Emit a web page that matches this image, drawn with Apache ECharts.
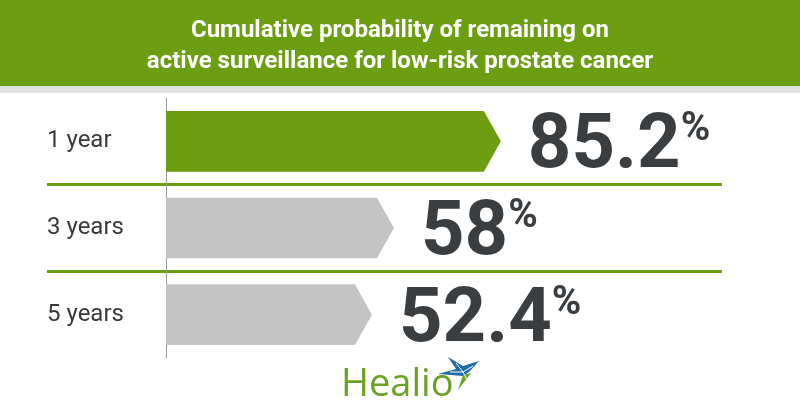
<!DOCTYPE html>
<html><head><meta charset="utf-8">
<script src="https://cdn.jsdelivr.net/npm/echarts@6/dist/echarts.min.js"></script>
<style>html,body{margin:0;padding:0;background:#fff}#c{width:800px;height:420px}</style>
</head><body><div id="c"></div>
<script>
const categories = ['1 year', '3 years', '5 years'];
const values = [85.2, 58, 52.4];
const valueLabels = ['85.2', '58', '52.4'];
const titleLines = ['Cumulative probability of remaining on', 'active surveillance for low-risk prostate cancer'];
const barColors = ['#6b9e10', '#c4c4c4', '#c4c4c4'];

const chart = echarts.init(document.getElementById('c'), null, {renderer: 'canvas'});
const GREEN = '#6b9e10';
const DARK = '#3b3e40';
const PLOT_TOP = 98, PLOT_H = 260;
const band = PLOT_H / categories.length;

const option = {
  backgroundColor: '#ffffff',
  animation: false,
  grid: [
    {left: 166, right: 241, top: PLOT_TOP, height: PLOT_H},
    {left: 47, right: 78, top: PLOT_TOP + band, height: PLOT_H - 2 * band}
  ],
  xAxis: [
    {gridIndex: 0, type: 'value', min: 0, max: 100, show: false},
    {gridIndex: 1, type: 'value', min: 0, max: 1, show: false}
  ],
  yAxis: [
    {gridIndex: 0, type: 'category', data: categories, inverse: true,
     axisLine: {show: true, lineStyle: {color: '#9a9a9a', width: 1}},
     axisTick: {show: false}, splitLine: {show: false},
     axisLabel: {align: 'left', margin: 119, fontSize: 24, color: '#3a3a3a', fontFamily: 'Roboto'}},
    {gridIndex: 1, type: 'value', min: 0, max: 1, interval: 1,
     axisLine: {show: false}, axisTick: {show: false}, axisLabel: {show: false},
     splitLine: {show: true, lineStyle: {color: GREEN, width: 3}}}
  ],
  graphic: [
    {type: 'rect', left: 0, top: 0, shape: {width: 800, height: 86}, style: {fill: GREEN}, z: 0},
    {type: 'rect', left: 0, top: 86, shape: {width: 800, height: 7}, style: {fill: '#e1e1e1'}, z: 0},
    {type: 'text', x: 400, y: 46, z: 10, style: {
      text: titleLines.join('\n'), fill: '#ffffff', align: 'center', verticalAlign: 'middle',
      font: 'bold 24px Roboto, sans-serif', lineHeight: 31}},
    {type: 'text', x: 341, y: 385, z: 10, style: {
      text: 'Healio', fill: '#6aa224', align: 'left', verticalAlign: 'middle',
      font: '38px "Open Sans", sans-serif'}},
    {type: 'polygon', z: 11, shape: {points: [[438,374],[456,369],[448,357],[463,366],[479,361],[469,372],[463,376]]},
      style: {fill: '#1f6dab'}},
    {type: 'polygon', z: 11, shape: {points: [[463,375],[471,373],[458,390]]},
      style: {fill: '#6aa224'}},
    {type: 'polyline', z: 12, shape: {points: [[450,372],[463,372],[473,366]]}, style: {stroke: '#ffffff', lineWidth: 1, fill: null}},
    {type: 'polyline', z: 12, shape: {points: [[456,363],[463,372],[467,380]]}, style: {stroke: '#ffffff', lineWidth: 1, fill: null}}
  ],
  series: [
    {
      type: 'custom', xAxisIndex: 0, yAxisIndex: 0,
      data: values.map((v, i) => [v, i]),
      encode: {x: 0, y: 1},
      renderItem: function (params, api) {
        const i = params.dataIndex;
        const v = api.value(0), idx = api.value(1);
        const s = api.coord([0, idx]);
        const e = api.coord([v, idx]);
        const h = api.size([0, 1])[1] * 0.7;
        const notch = h * 0.28;
        const x0 = s[0], x1 = e[0], yc = e[1];
        const pts = [[x0, yc - h / 2], [x1 - notch, yc - h / 2], [x1, yc], [x1 - notch, yc + h / 2], [x0, yc + h / 2]];
        return {type: 'group', children: [
          {type: 'polygon', shape: {points: pts}, style: {fill: barColors[i]}},
          {type: 'text', x: x1 + 27, y: yc + 7, style: {
            text: '{n|' + valueLabels[i] + '}{p|%}', align: 'left', verticalAlign: 'middle',
            rich: {
              n: {fontSize: 76, fontWeight: 'bold', fontFamily: 'Roboto', fill: DARK, lineHeight: 76},
              p: {fontSize: 40, fontWeight: 'bold', fontFamily: 'Roboto', fill: DARK, verticalAlign: 'top', lineHeight: 40, padding: [0, 0, 0, 0]}
            }}}
        ]};
      }
    }
  ]
};
chart.setOption(option);
</script></body></html>
